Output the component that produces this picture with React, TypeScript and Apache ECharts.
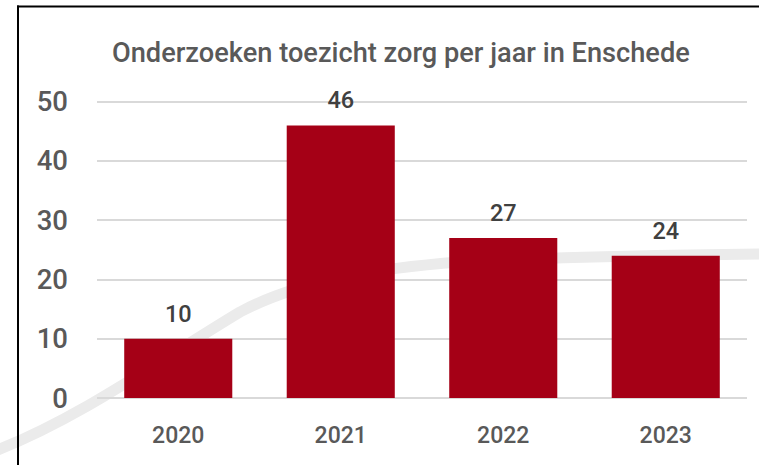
import React, { useEffect, useRef } from "react";
import * as echarts from "echarts";

const title = "Onderzoeken toezicht zorg per jaar in Enschede";
const years = ["2020", "2021", "2022", "2023"];
const counts = [10, 46, 27, 24];
const yTicks = [0, 10, 20, 30, 40, 50];

const FONT = "Roboto, 'Noto Sans', sans-serif";
const swooshPath =
  "M-5,451 C80,418 160,360 240,312 C300,280 380,268 460,262 C560,257 660,255 770,254";

let registered = false;
function registerShapes() {
  if (registered) return;
  registered = true;
  echarts.graphic.registerShape("swoosh", echarts.graphic.extendPath(swooshPath, {}) as any);
}

export default function App() {
  const ref = useRef<HTMLDivElement>(null);
  useEffect(() => {
    if (!ref.current) return;
    document.documentElement.style.overflow = "hidden";
    document.body.style.margin = "0";
    document.body.style.overflow = "hidden";
    registerShapes();
    const chart = echarts.init(ref.current, null, { renderer: "svg" });
    chart.setOption({
      animation: false,
      backgroundColor: "#ffffff",
      title: {
        text: title,
        left: 107,
        top: 34,
        textStyle: { fontFamily: FONT, fontSize: 27.2, fontWeight: 500, color: "#595959" },
      },
      grid: { left: 97, right: 12, top: 101.7, bottom: 67, containLabel: false },
      xAxis: {
        type: "category",
        data: years,
        axisLine: { show: false },
        axisTick: { show: false },
        axisLabel: { fontFamily: FONT, fontSize: 23, fontWeight: 500, color: "#595959", margin: 26 },
      },
      yAxis: {
        type: "value",
        min: yTicks[0],
        max: yTicks[yTicks.length - 1],
        interval: 10,
        axisLine: { show: false },
        axisTick: { show: false },
        splitLine: { lineStyle: { color: "#D9D9D9", width: 2 } },
        axisLabel: { fontFamily: FONT, fontSize: 27.5, fontWeight: 500, color: "#595959", margin: 29 },
      },
      graphic: [
        {
          type: "swoosh",
          z: -10,
          silent: true,
          x: 0,
          y: 0,
          scaleX: 1,
          scaleY: 1,
          style: { fill: null, stroke: "#EBEBEB", lineWidth: 11 },
        },
        {
          type: "line",
          z: 100,
          silent: true,
          shape: { x1: 18, y1: 465, x2: 18, y2: 5.5 },
          style: { stroke: "#000000", lineWidth: 2 },
        },
        {
          type: "line",
          z: 100,
          silent: true,
          shape: { x1: 17, y1: 6.5, x2: 759, y2: 6.5 },
          style: { stroke: "#000000", lineWidth: 2 },
        },
      ],
      series: [
        {
          type: "bar",
          data: counts,
          barCategoryGap: "33.5%",
          itemStyle: { color: "#A50016" },
          label: {
            show: true,
            position: "top",
            distance: 13,
            fontFamily: FONT,
            fontSize: 23.5,
            fontWeight: 500,
            color: "#404040",
          },
        },
      ],
    });
    return () => chart.dispose();
  }, []);
  return (
    <div
      ref={ref}
      style={{ position: "fixed", left: 0, top: 0, width: 759, height: 465, overflow: "hidden" }}
    />
  );
}
